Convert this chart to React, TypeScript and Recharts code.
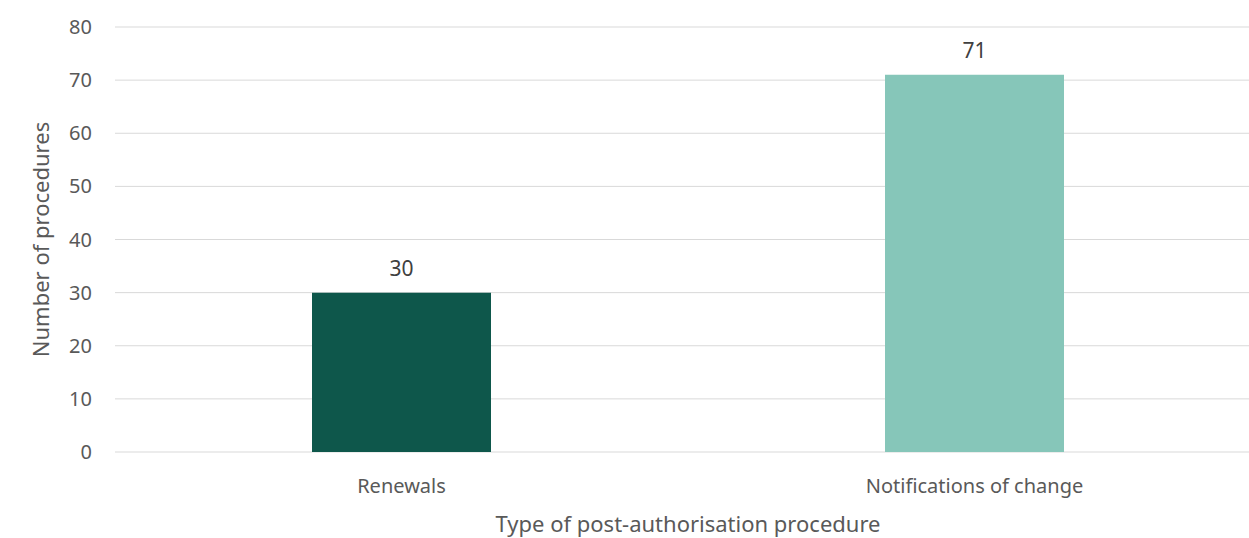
import { BarChart, Bar, XAxis, YAxis, CartesianGrid, Cell, LabelList } from 'recharts';

const categories = ['Renewals', 'Notifications of change'];
const procedureCounts = [30, 71];
const barColors = ['#0e574b', '#86c6b9'];
const yTicks = [0, 10, 20, 30, 40, 50, 60, 70, 80];

const data = categories.map((name, i) => ({ name, value: procedureCounts[i] }));

const font = '"Noto Sans", sans-serif';

const YTitle = ({ viewBox }: any) => {
  const cx = 40;
  const cy = viewBox.y + viewBox.height / 2;
  return (
    <text
      x={cx}
      y={cy}
      transform={`rotate(-90 ${cx} ${cy})`}
      textAnchor="middle"
      dominantBaseline="central"
      fill="#595959"
      fontSize={22}
      fontFamily={font}
    >
      Number of procedures
    </text>
  );
};

export default function App() {
  return (
    <div style={{ position: 'absolute', left: 0, top: 0, width: 1249, height: 538, overflow: 'hidden', background: '#fff' }}>
      <BarChart
        width={1270}
        height={538}
        data={data}
        margin={{ top: 27, right: 9, bottom: 0, left: 0 }}
      >
        <CartesianGrid vertical={false} stroke="#d9d9d9" strokeWidth={1} />
        <XAxis
          dataKey="name"
          axisLine={false}
          tickLine={false}
          tickSize={0}
          tickMargin={27}
          height={86}
          tick={{ fill: '#595959', fontSize: 20, fontFamily: font }}
          label={{
            value: 'Type of post-authorisation procedure',
            position: 'insideBottom',
            offset: 6,
            fill: '#595959',
            fontSize: 22,
            fontFamily: font,
          }}
        />
        <YAxis
          domain={[0, 80]}
          ticks={yTicks}
          interval={0}
          width={115}
          axisLine={false}
          tickLine={false}
          tickSize={0}
          tickMargin={23}
          tick={{ fill: '#595959', fontSize: 20, fontFamily: font }}
          label={<YTitle />}
        />
        <Bar dataKey="value" barSize={179} isAnimationActive={false}>
          {data.map((d, i) => (
            <Cell key={d.name} fill={barColors[i]} />
          ))}
          <LabelList
            dataKey="value"
            position="top"
            offset={17}
            fill="#404040"
            fontSize={21}
            fontFamily={font}
          />
        </Bar>
      </BarChart>
    </div>
  );
}
